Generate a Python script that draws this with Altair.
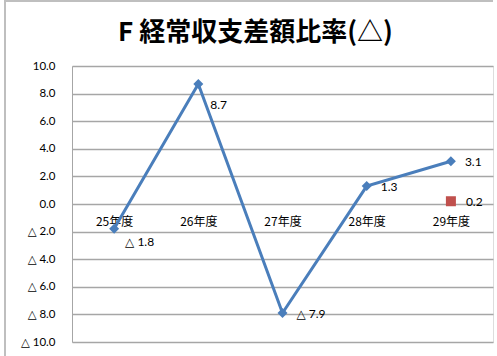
import altair as alt
import pandas as pd

years = ["25年度", "26年度", "27年度", "28年度", "29年度"]
values = [-1.8, 8.7, -7.9, 1.3, 3.1]
extra_year = ["29年度"]
extra_value = [0.2]
y_ticks = [-10, -8, -6, -4, -2, 0, 2, 4, 6, 8, 10]
title_text = "F  経常収支差額比率(△)"

def fmt(v):
    return ("△ " if v < 0 else "") + f"{abs(v):.1f}"

df = pd.DataFrame({"year": years, "value": values, "label": [fmt(v) for v in values]})
df_extra = pd.DataFrame({"year": extra_year, "value": extra_value,
                         "label": [fmt(v) for v in extra_value]})

FONT = "Lato, DejaVu Sans, Noto Sans CJK JP, sans-serif"
XFONT = "Noto Sans CJK JP, sans-serif"
TFONT = "Noto Sans CJK JP, sans-serif"
BLUE = "#4A7EBB"
GRID = "#A6A6A6"

x_enc = alt.X("year:N", sort=years, title=None,
              scale=alt.Scale(padding=0.5),
              axis=alt.Axis(orient="bottom", offset=-138, domain=False, ticks=False,
                            labelAngle=0, labelPadding=12, labelFontSize=12,
                            labelFont=XFONT, labelColor="#000000", grid=False))
y_enc = alt.Y("value:Q", title=None,
              scale=alt.Scale(domain=[-10, 10], nice=False, zero=False),
              axis=alt.Axis(values=y_ticks, tickCount=11, domain=True, domainColor=GRID, ticks=False,
                            labelOverlap=False, labelSeparation=0, labelBound=False,
                            labelPadding=17, labelFontSize=11.5, labelFont=FONT,
                            labelColor="#000000", gridColor=GRID, gridWidth=1.3,
                            labelExpr="datum.value < 0 ? '△ ' + format(-datum.value, '.1f') : format(datum.value, '.1f')"))

base = alt.Chart(df)

line = base.mark_line(color=BLUE, strokeWidth=3).encode(x=x_enc, y=y_enc)
pts = base.mark_point(shape="diamond", filled=True, size=100, color=BLUE, opacity=1).encode(
    x=alt.X("year:N", sort=years), y="value:Q")

txt_style = dict(align="left", baseline="middle", fontSize=12, font=FONT, color="#000000")
lbl_main = base.transform_filter(
    alt.FieldOneOfPredicate(field="year", oneOf=["27年度", "28年度", "29年度"])
).mark_text(dx=14, dy=1, **txt_style).encode(x=alt.X("year:N", sort=years), y="value:Q", text="label:N")
lbl_26 = base.transform_filter(alt.datum.year == "26年度").mark_text(dx=12, dy=21, **txt_style).encode(
    x=alt.X("year:N", sort=years), y="value:Q", text="label:N")
lbl_25 = base.transform_filter(alt.datum.year == "25年度").mark_text(dx=11, dy=13, **txt_style).encode(
    x=alt.X("year:N", sort=years), y="value:Q", text="label:N")

extra = alt.Chart(df_extra)
sq = extra.mark_point(shape="square", filled=True, size=100, color="#C0504D", opacity=1).encode(
    x=alt.X("year:N", sort=years), y="value:Q")
sq_lbl = extra.mark_text(dx=15, dy=1, **txt_style).encode(
    x=alt.X("year:N", sort=years), y="value:Q", text="label:N")

frame_left = alt.Chart(df).mark_rule(color="#BFBFBF", strokeWidth=2).encode(
    x=alt.value(-67), y=alt.value(-66), y2=alt.value(290))
frame_top = alt.Chart(df).mark_rule(color="#BFBFBF", strokeWidth=2).encode(
    x=alt.value(-67), x2=alt.value(421), y=alt.value(-65))

chart = alt.layer(line, pts, lbl_main, lbl_26, lbl_25, sq, sq_lbl, frame_left, frame_top).properties(
    width=421, height=276,
    title=alt.TitleParams(title_text, fontSize=26, font=TFONT, fontWeight="bold",
                          anchor="middle", dx=-27, offset=-47, color="#000000"),
    autosize=alt.AutoSizeParams(type="none"),
    padding={"left": 72, "top": 66, "right": 4, "bottom": 14},
).configure_view(stroke=None).configure(background="white").configure_axis(labelOverlap=False)

chart.save("out.html", embed_options={"renderer": "svg", "actions": False})
